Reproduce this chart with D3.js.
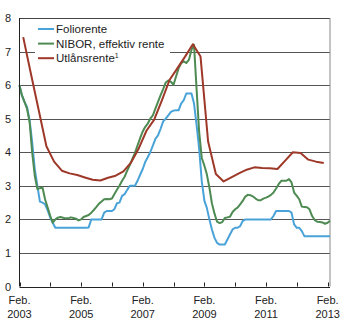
<!DOCTYPE html>
<html><head><meta charset="utf-8">
<script src="https://cdn.jsdelivr.net/npm/d3@7"></script>
<style>
html,body{margin:0;padding:0;background:#fff;}
svg{display:block;font-family:"Liberation Sans",Arial,sans-serif;}
</style></head><body>
<svg id="chart" width="350" height="324"></svg>
<script>
// ---- data ----
const seriesNames = ["Foliorente", "NIBOR, effektiv rente", "Utlånsrente"];
const seriesColors = ["#4aa3d8", "#4e8b52", "#9e3828"];
const monthlyStart = [2003, 1]; // Feb 2003
const foliorente = [
6.0,5.7,5.5,5.35,4.95,4.3,3.5,3.0,2.53,2.5,2.45,2.27,2.05,1.9,1.75,
1.75,1.75,1.75,1.75,1.75,1.75,1.75,1.75,1.75,1.75,1.75,1.75,1.76,2.0,
2.0,2.0,2.0,2.0,2.2,2.25,2.25,2.25,2.3,2.48,2.5,2.7,2.75,2.88,3.0,3.0,
3.0,3.15,3.33,3.5,3.7,3.85,4.0,4.2,4.4,4.5,4.7,4.92,5.0,5.1,5.2,5.24,
5.25,5.25,5.45,5.55,5.75,5.75,5.75,5.45,4.8,4.1,3.13,2.55,2.35,2.0,1.7,
1.45,1.3,1.25,1.25,1.25,1.4,1.55,1.7,1.75,1.75,1.8,1.95,2.0,2.0,2.0,
2.0,2.0,2.0,2.0,2.0,2.0,2.0,2.0,2.1,2.25,2.25,2.25,2.25,2.25,2.25,2.2,
1.85,1.75,1.75,1.65,1.5,1.5,1.5,1.5,1.5,1.5,1.5,1.5,1.5,1.5,1.5];
const nibor = [
6.0,5.7,5.5,5.3,4.9,4.0,3.3,2.9,2.93,2.95,2.6,2.35,2.1,1.9,2.0,2.05,
2.07,2.05,2.03,2.03,2.06,2.04,2.02,1.97,2.0,2.07,2.1,2.13,2.2,2.28,2.37,
2.47,2.53,2.6,2.61,2.6,2.62,2.75,2.88,3.0,3.15,3.27,3.45,3.62,3.8,3.98,
4.2,4.42,4.62,4.75,4.85,5.0,5.1,5.3,5.5,5.7,5.88,6.08,6.14,6.1,6.01,
6.25,6.5,6.65,6.71,6.66,6.75,7.05,7.2,5.85,4.6,3.83,3.6,3.35,2.95,2.48,
2.17,1.93,1.89,1.92,2.04,2.06,2.08,2.22,2.3,2.35,2.45,2.55,2.68,2.73,
2.72,2.68,2.62,2.57,2.57,2.62,2.65,2.68,2.73,2.8,2.92,3.05,3.15,3.15,
3.15,3.2,3.1,2.8,2.7,2.6,2.38,2.37,2.36,2.3,2.1,1.98,1.93,1.92,1.91,
1.87,1.9,1.96];
const quarterlyStart = [2003, 2, 17]; // mid-March 2003
const utlansrente = [
7.43,6.33,5.25,4.18,3.72,3.45,3.37,3.32,3.25,3.18,3.16,3.24,3.3,3.43,
3.7,4.12,4.64,4.97,5.55,6.16,6.5,6.85,7.22,6.85,4.32,3.35,3.13,3.25,
3.37,3.48,3.55,3.53,3.52,3.5,3.75,4.0,3.98,3.78,3.72,3.68];
const yTicks = [0,1,2,3,4,5,6,7,8];
const tickYears = [2003,2004,2005,2006,2007,2008,2009,2010,2011,2012,2013];
const labelYears = [2003,2005,2007,2009,2011,2013];
const tickMonthLabel = "Feb.";

// ---- build ----
(function(){
const monthly = (vals) => vals.map((v,i)=>({date:new Date(monthlyStart[0], monthlyStart[1]+i, 1), value:v}));
const quarterly = (vals) => vals.map((v,i)=>({date:new Date(quarterlyStart[0], quarterlyStart[1]+3*i, quarterlyStart[2]), value:v}));
const series = [monthly(foliorente), monthly(nibor), quarterly(utlansrente)];

const svg = d3.select("#chart");
const pL = 19.5, pR = 330, pT = 18, pB = 286.5;
const x = d3.scaleTime().domain([new Date(2003,1,1), new Date(2013,2,1)]).range([pL, pR]);
const y = d3.scaleLinear().domain([0,8]).range([pB, pT]);

// gridlines
svg.append("g").selectAll("line").data(yTicks.filter(d=>d>0)).join("line")
  .attr("x1", pL).attr("x2", pR)
  .attr("y1", d=>Math.round(y(d))+0.5).attr("y2", d=>Math.round(y(d))+0.5)
  .attr("stroke", d=> (d===8? "#444" : "#555")).attr("stroke-width", 1);

// right border
svg.append("line").attr("x1", pR).attr("x2", pR).attr("y1", pT).attr("y2", pB)
  .attr("stroke", "#888").attr("stroke-width", 1);

// y labels
svg.append("g").selectAll("text").data(yTicks).join("text")
  .attr("x", 8).attr("y", d=>y(d)+4).attr("text-anchor","middle")
  .attr("font-size", 11).attr("fill","#222").text(d=>d);

// lines
const line = d3.line().x(d=>x(d.date)).y(d=>y(d.value));
series.forEach((s,i)=>{
  svg.append("path").datum(s).attr("d", line).attr("fill","none")
    .attr("stroke", seriesColors[i]).attr("stroke-width", 2)
    .attr("stroke-linejoin","round");
});

// axes
svg.append("line").attr("x1", pL).attr("x2", pL).attr("y1", pT).attr("y2", pB)
  .attr("stroke","#222").attr("stroke-width",1);
svg.append("line").attr("x1", pL).attr("x2", pR).attr("y1", Math.round(pB)+0.5).attr("y2", Math.round(pB)+0.5)
  .attr("stroke","#222").attr("stroke-width",1);
svg.append("g").selectAll("line").data(tickYears).join("line")
  .attr("x1", d=>Math.round(x(new Date(d,1,1)))+0.5).attr("x2", d=>Math.round(x(new Date(d,1,1)))+0.5)
  .attr("y1", pB-4).attr("y2", pB)
  .attr("stroke","#222").attr("stroke-width",1);
const xl = svg.append("g").selectAll("text").data(labelYears).join("text")
  .attr("x", d=>x(new Date(d,1,1))).attr("text-anchor","middle")
  .attr("font-size", 11).attr("fill","#222");
xl.append("tspan").attr("x", d=>x(new Date(d,1,1))).attr("y", 304).text(tickMonthLabel);
xl.append("tspan").attr("x", d=>x(new Date(d,1,1))).attr("y", 318).text(d=>d);

// legend
svg.append("rect").attr("x",35).attr("y",21).attr("width",135).attr("height",45).attr("fill","#fff");
const lg = svg.append("g").selectAll("g").data(seriesNames).join("g")
  .attr("transform",(d,i)=>`translate(38,${29+i*14.6})`);
lg.append("line").attr("x1",0).attr("x2",16).attr("y1",0).attr("y2",0)
  .attr("stroke",(d,i)=>seriesColors[i]).attr("stroke-width",2);
const lt = lg.append("text").attr("x",18).attr("y",4).attr("font-size",11.5).attr("fill","#222");
lt.append("tspan").text(d=>d);
lt.filter((d,i)=>i===2).append("tspan").attr("font-size",7).attr("dy",-4).text("1");
})();
</script>
</body></html>
